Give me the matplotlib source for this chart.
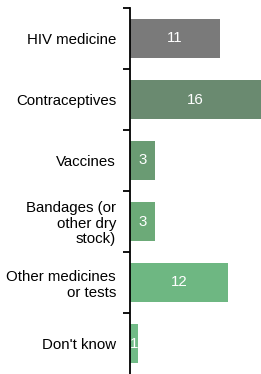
import matplotlib
matplotlib.use("Agg")
import matplotlib.pyplot as plt
import numpy as np

categories = ["HIV medicine", "Contraceptives", "Vaccines",
              "Bandages (or\nother dry\nstock)", "Other medicines\nor tests", "Don't know"]
values = [11, 16, 3, 3, 12, 1]
colors = ["#7a7a7a", "#6a8a70", "#6a9b73", "#6caa78", "#6eb782", "#71bb87"]

plt.rcParams['font.family'] = ['Liberation Sans', 'DejaVu Sans']

fig = plt.figure(figsize=(2.61, 3.74), dpi=100)
ax = fig.add_axes([130/261, 0.0, 1 - 130/261, 1 - 8/374])

y = np.arange(len(categories))
ax.barh(y, values, height=0.63, color=colors)
for yi, v in zip(y, values):
    ax.text(v / 2, yi, str(v), ha='center', va='center', color='white', fontsize=10.8)

ax.set_xlim(0, 16)
ax.set_ylim(5.5, -0.5)
ax.set_xticks([])
for s in ['top', 'right', 'bottom']:
    ax.spines[s].set_visible(False)
ax.spines['left'].set_linewidth(1.3)
ax.spines['left'].set_color('black')

ax.set_yticks(np.arange(-0.5, 5.0, 1.0))
ax.set_yticklabels([])
ax.tick_params(axis='y', which='major', length=5, width=1.3, color='black')
ax.set_yticks(y, minor=True)
ax.set_yticklabels(categories, minor=True, ha='right', fontsize=10.8, linespacing=1.15)
ax.tick_params(axis='y', which='minor', length=0, pad=10)

fig.savefig("out.png", dpi=100)
